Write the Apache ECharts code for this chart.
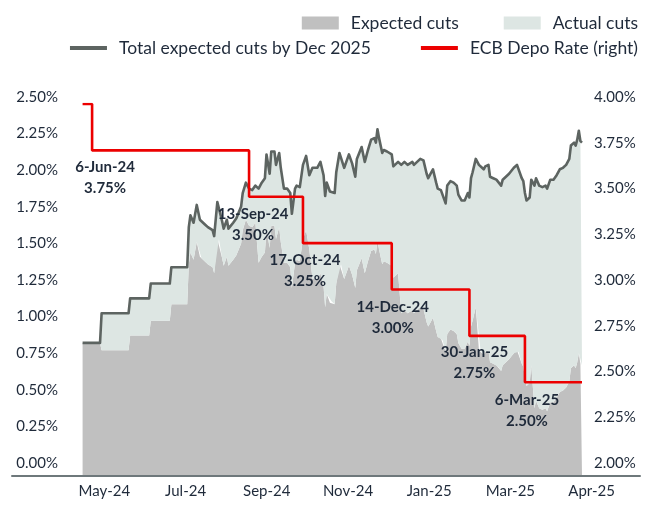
<!DOCTYPE html>
<html><head><meta charset="utf-8">
<script src="https://cdn.jsdelivr.net/npm/echarts@6/dist/echarts.min.js"></script>
<style>html,body{margin:0;padding:0;background:#fff}#c{width:655px;height:506px}</style>
</head><body><div id="c"></div>
<script>
// ---------- DATA ----------
const dates = [
 '2024-05-31','2024-06-11','2024-06-12','2024-06-29','2024-06-30','2024-07-12','2024-07-13','2024-07-25','2024-07-26','2024-08-05',
 '2024-08-06','2024-08-07','2024-08-09','2024-08-11','2024-08-13','2024-08-14','2024-08-16','2024-08-18','2024-08-21','2024-08-22',
 '2024-08-24','2024-08-25','2024-08-27','2024-08-28','2024-08-30','2024-08-31','2024-09-03','2024-09-05','2024-09-08','2024-09-09',
 '2024-09-11','2024-09-13','2024-09-15','2024-09-17','2024-09-19','2024-09-21','2024-09-23','2024-09-24','2024-09-26','2024-09-27',
 '2024-09-29','2024-09-30','2024-10-02','2024-10-03','2024-10-05','2024-10-07','2024-10-09','2024-10-10','2024-10-12','2024-10-13',
 '2024-10-15','2024-10-17','2024-10-19','2024-10-21','2024-10-23','2024-10-26','2024-10-28','2024-10-30','2024-10-31','2024-11-01',
 '2024-11-03','2024-11-04','2024-11-06','2024-11-07','2024-11-09','2024-11-10','2024-11-12','2024-11-14','2024-11-15','2024-11-17',
 '2024-11-19','2024-11-20','2024-11-23','2024-11-24','2024-11-25','2024-11-27','2024-11-29','2024-12-01','2024-12-02','2024-12-03',
 '2024-12-04','2024-12-06','2024-12-07','2024-12-09','2024-12-12','2024-12-13','2024-12-16','2024-12-18','2024-12-20','2024-12-22',
 '2024-12-25','2024-12-26','2024-12-28','2024-12-30','2025-01-01','2025-01-03','2025-01-04','2025-01-05','2025-01-07','2025-01-09',
 '2025-01-10','2025-01-12','2025-01-13','2025-01-15','2025-01-16','2025-01-18','2025-01-20','2025-01-22','2025-01-23','2025-01-25',
 '2025-01-27','2025-01-29','2025-01-30','2025-01-31','2025-02-01','2025-02-03','2025-02-05','2025-02-06','2025-02-08','2025-02-09',
 '2025-02-11','2025-02-12','2025-02-14','2025-02-16','2025-02-17','2025-02-19','2025-02-20','2025-02-22','2025-02-24','2025-02-27',
 '2025-03-01','2025-03-02','2025-03-04','2025-03-05','2025-03-06','2025-03-07','2025-03-09','2025-03-10','2025-03-12','2025-03-13',
 '2025-03-15','2025-03-17','2025-03-19','2025-03-20','2025-03-22','2025-03-24','2025-03-26','2025-03-28','2025-03-30','2025-04-01',
 '2025-04-03','2025-04-04','2025-04-06','2025-04-07','2025-04-08','2025-04-09','2025-04-10','2025-04-11'
];
const totalCuts = [
 0.89,0.89,1.09,1.09,1.19,1.19,1.29,1.29,1.40,1.40,
 1.67,1.75,1.70,1.82,1.72,1.71,1.69,1.67,1.65,1.61,
 1.84,1.84,1.71,1.66,1.72,1.66,1.70,1.73,1.81,1.90,
 1.97,1.93,1.92,1.95,1.93,1.97,2.00,2.16,2.03,2.18,
 2.18,2.09,2.17,2.07,1.93,1.93,1.90,1.76,1.93,1.95,
 1.94,2.09,2.15,2.02,2.07,2.07,2.11,2.02,1.88,1.97,
 1.91,1.92,1.90,2.04,2.17,2.17,2.07,2.13,2.16,2.10,
 2.01,2.13,2.21,2.16,2.11,2.19,2.26,2.27,2.24,2.33,
 2.27,2.17,2.19,2.18,2.16,2.08,2.11,2.09,2.11,2.09,
 2.11,2.09,2.11,2.13,2.12,2.03,2.00,2.02,2.06,1.97,
 1.93,1.92,1.91,1.83,1.95,1.98,1.97,1.95,1.89,1.85,
 1.85,1.90,1.87,2.00,2.04,2.13,2.09,2.09,2.06,2.08,
 2.09,2.01,2.00,1.99,1.98,1.95,1.99,2.01,2.03,2.07,
 2.09,2.08,2.00,1.98,1.90,1.85,1.87,1.99,1.95,2.00,
 1.95,1.94,1.95,1.93,1.99,1.99,2.02,2.06,2.07,2.09,
 2.13,2.22,2.24,2.22,2.26,2.32,2.25,2.24
];
// ECB deposit rate: decision dates and level after each decision
const rateDates = ['2024-05-31','2024-06-06','2024-09-13','2024-10-17','2024-12-12','2025-01-30','2025-03-06','2025-04-11'];
const depoRate  = [4.00, 3.75, 3.50, 3.25, 3.00, 2.75, 2.50, 2.50];
const decisionLabels = ['6-Jun-24','13-Sep-24','17-Oct-24','14-Dec-24','30-Jan-25','6-Mar-25'];
// realized cuts: effective dates and size
const cutEffectiveDates = ['2024-06-12','2024-09-18','2024-10-23','2024-12-18','2025-02-05','2025-03-12'];
const cutSizes = [0.25, 0.25, 0.25, 0.25, 0.25, 0.25];
const monthLabels = ['May-24','Jul-24','Sep-24','Nov-24','Jan-25','Mar-25','Apr-25'];
const leftAxisTicks = [0, 2.5, 0.25];
const rightAxisTicks = [2, 4, 0.25];
const xRange = ['2024-05-30', '2025-04-11'];

// ---------- DERIVED ----------
const realized = dates.map(d => cutEffectiveDates.reduce((s, e, i) => s + (e <= d ? cutSizes[i] : 0), 0));
const expectedSeries = dates.map((d, i) => [d, +(totalCuts[i] - realized[i]).toFixed(3)]);
const actualSeries = dates.map((d, i) => [d, realized[i]]);
const totalSeries = dates.map((d, i) => [d, totalCuts[i]]);
const rateSeries = rateDates.map((d, i) => [d, depoRate[i]]);

// ---------- STYLE ----------
const FONT = 'Lato, "Open Sans", sans-serif';
const TXT = '#1f2a3a';
const labelOffsets = [[13, 27], [4, 28], [2, 28], [1, 28], [5, 27], [2, 28]];

const chart = echarts.init(document.getElementById('c'), null, {renderer: 'canvas'});
const pct = v => v.toFixed(2) + '%';

chart.setOption({
  animation: false,
  textStyle: {fontFamily: FONT},
  grid: [
    {left: 81, right: 73, top: 104, bottom: 31},   // data
    {left: 81, right: 73, top: 97, bottom: 43},    // y labels
    {left: 63.8, right: 22.8, top: 100, bottom: 30}, // x labels
    {left: 12, right: 15, top: 100, bottom: 30}    // bottom axis line
  ],
  xAxis: [
    {type: 'time', gridIndex: 0, min: xRange[0], max: xRange[1], show: false},
    {type: 'value', gridIndex: 1, min: 0, max: 1, show: false},
    {type: 'category', gridIndex: 2, data: monthLabels, boundaryGap: true,
     axisLine: {show: false}, axisTick: {show: false},
     axisLabel: {margin: 8, fontSize: 15, color: TXT, fontFamily: FONT, interval: 0}},
    {type: 'value', gridIndex: 3, min: 0, max: 1, axisLabel: {show: false}, axisTick: {show: false},
     splitLine: {show: false}, axisLine: {lineStyle: {color: '#6e787b', width: 2}}}
  ],
  yAxis: [
    {type: 'value', gridIndex: 0, min: leftAxisTicks[0], max: leftAxisTicks[1], show: false},
    {type: 'value', gridIndex: 0, min: rightAxisTicks[0], max: rightAxisTicks[1], show: false},
    {type: 'value', gridIndex: 1, position: 'left', min: leftAxisTicks[0], max: leftAxisTicks[1], interval: leftAxisTicks[2],
     axisLine: {show: false}, axisTick: {show: false}, splitLine: {show: false},
     axisLabel: {formatter: pct, margin: 23, fontSize: 15, color: TXT, fontFamily: FONT}},
    {type: 'value', gridIndex: 1, position: 'right', min: rightAxisTicks[0], max: rightAxisTicks[1], interval: rightAxisTicks[2],
     axisLine: {show: false}, axisTick: {show: false}, splitLine: {show: false},
     axisLabel: {formatter: pct, margin: 12, fontSize: 15, color: TXT, fontFamily: FONT}},
    {type: 'value', gridIndex: 2, show: false},
    {type: 'value', gridIndex: 3, show: false}
  ],
  legend: [
    {data: [{name: 'Expected cuts', icon: 'rect'}, {name: 'Actual cuts', icon: 'rect'}],
     right: 12, top: 9, itemWidth: 37, itemHeight: 13, itemGap: 45,
     textStyle: {fontFamily: FONT, fontSize: 17.5, color: TXT, padding: [0, 0, 0, 7]}},
    {data: [{name: 'Total expected cuts by Dec 2025', icon: 'rect'}, {name: 'ECB Depo Rate (right)', icon: 'rect'}],
     right: 12, top: 34, itemWidth: 37, itemHeight: 4, itemGap: 50,
     textStyle: {fontFamily: FONT, fontSize: 17.5, color: TXT, padding: [0, 0, 0, 7]}}
  ],
  series: [
    {name: 'Expected cuts', type: 'line', xAxisIndex: 0, yAxisIndex: 0, stack: 'cuts', data: expectedSeries,
     symbol: 'none', color: '#c0c0c0', itemStyle: {color: '#c0c0c0'},
     lineStyle: {width: 0}, areaStyle: {color: '#c0c0c0', opacity: 1}, z: 1},
    {name: 'Actual cuts', type: 'line', xAxisIndex: 0, yAxisIndex: 0, stack: 'cuts', data: actualSeries,
     symbol: 'none', color: '#dde6e3', itemStyle: {color: '#dde6e3'},
     lineStyle: {width: 0}, areaStyle: {color: '#dde6e3', opacity: 1}, z: 1},
    {name: 'Total expected cuts by Dec 2025', type: 'line', xAxisIndex: 0, yAxisIndex: 0, data: totalSeries,
     symbol: 'none', color: '#5d6461', itemStyle: {color: '#5d6461'},
     lineStyle: {width: 2.6, color: '#5d6461', join: 'round'}, z: 3},
    {name: 'ECB Depo Rate (right)', type: 'line', xAxisIndex: 0, yAxisIndex: 1, data: rateSeries, step: 'end',
     symbol: 'none', color: '#ec0000', itemStyle: {color: '#ec0000'},
     lineStyle: {width: 2.6, color: '#ec0000'}, z: 4,
     markPoint: {
       symbol: 'circle', symbolSize: 0, silent: true,
       data: decisionLabels.map((t, i) => ({
         coord: [rateDates[i + 1], depoRate[i + 1]],
         label: {show: true, position: 'inside', offset: labelOffsets[i],
                 formatter: t + '\n' + pct(depoRate[i + 1]),
                 fontFamily: FONT, fontSize: 15, fontWeight: 'bold', color: TXT, lineHeight: 21, align: 'center'}
       }))
     }}
  ],
  graphic: [
    {type: 'text', left: 484, top: 224, style: {text: 'Realized', font: 'bold 17px ' + FONT, fill: TXT}},
    {type: 'text', left: 102, top: 443, style: {text: 'Expected', font: 'bold 17px ' + FONT, fill: TXT}}
  ]
});
</script></body></html>
